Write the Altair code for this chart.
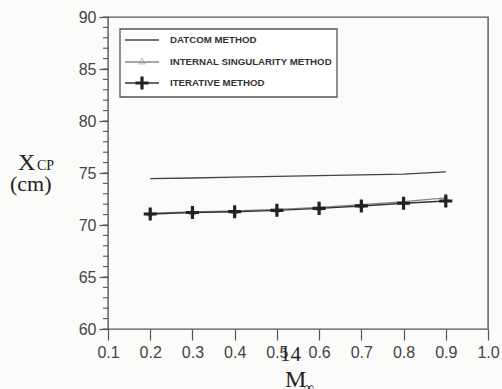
import altair as alt
import pandas as pd

# Free-stream Mach number
mach = [0.2, 0.3, 0.4, 0.5, 0.6, 0.7, 0.8, 0.9]
# Centre-of-pressure location (cm) per method
datcom = [74.45, 74.52, 74.60, 74.67, 74.75, 74.82, 74.90, 75.10]
singularity = [71.15, 71.25, 71.35, 71.50, 71.70, 71.95, 72.25, 72.60]
iterative = [71.06, 71.20, 71.28, 71.41, 71.60, 71.83, 72.09, 72.31]

series_names = ["DATCOM METHOD", "INTERNAL SINGULARITY METHOD", "ITERATIVE METHOD"]
x_ticks = [0.1, 0.2, 0.3, 0.4, 0.5, 0.6, 0.7, 0.8, 0.9, 1.0]
y_ticks = [60, 65, 70, 75, 80, 85, 90]
y_minor = list(range(60, 91))

W, H = 380, 312
SANS = "Liberation Sans"
SERIF = "Liberation Serif"
PLUS = "M-1,0H1M0,-1V1"

df = pd.DataFrame({
    "M": mach * 3,
    "X": datcom + singularity + iterative,
    "method": [series_names[0]] * 8 + [series_names[1]] * 8 + [series_names[2]] * 8,
})

xs = alt.Scale(domain=[0.1, 1.0], nice=False, zero=False)
ys = alt.Scale(domain=[60, 90], nice=False, zero=False)

x_enc = alt.X("M:Q", scale=xs, axis=alt.Axis(
    values=x_ticks, format=".1f", title=None, domain=False, grid=False,
    tickSize=11, tickColor="#555", tickWidth=1.2,
    labelFont=SANS, labelFontSize=16, labelColor="#444", labelPadding=4,
    labelFlush=False))
y_enc = alt.Y("X:Q", scale=ys, axis=alt.Axis(
    values=y_ticks, title=None, domain=False, grid=False,
    tickSize=9, tickColor="#555", tickWidth=1.2,
    labelFont=SANS, labelFontSize=16, labelColor="#444", labelPadding=3))

base = alt.Chart(df)

datcom_line = base.transform_filter(alt.datum.method == series_names[0]).mark_line(
    color="#444", strokeWidth=1.3).encode(x=x_enc, y=y_enc)

sing_line = base.transform_filter(alt.datum.method == series_names[1]).mark_line(
    color="#888", strokeWidth=1.3,
    point=alt.OverlayMarkDef(shape="triangle-up", filled=False, color="#999", size=40, strokeWidth=1)
).encode(x="M:Q", y="X:Q")

iter_line = base.transform_filter(alt.datum.method == series_names[2]).mark_line(
    color="#333", strokeWidth=1.4).encode(x="M:Q", y="X:Q")
iter_pts = base.transform_filter(alt.datum.method == series_names[2]).mark_point(
    shape=PLUS, filled=False, color="#222", size=170, strokeWidth=3.2, opacity=1
).encode(x="M:Q", y="X:Q")

# minor ticks on the y axis, one per cm
minor = alt.Chart(pd.DataFrame({"v": y_minor})).mark_rule(
    color="#555", strokeWidth=1.1, clip=False).encode(
    y=alt.Y("v:Q", scale=ys), x=alt.value(-5), x2=alt.value(0))

# legend box
one = pd.DataFrame({"k": [0]})
legend_box = alt.Chart(one).mark_rect(
    fill="white", stroke="#555", strokeWidth=1.3).encode(
    x=alt.value(12), x2=alt.value(229), y=alt.value(12), y2=alt.value(80))

legend_layers = [legend_box]
rows_y = [23, 45, 66]
for i, name in enumerate(series_names):
    yv = rows_y[i]
    col = ["#444", "#888", "#333"][i]
    legend_layers.append(alt.Chart(one).mark_rule(color=col, strokeWidth=1.3).encode(
        x=alt.value(17), x2=alt.value(51), y=alt.value(yv)))
    legend_layers.append(alt.Chart(pd.DataFrame({"t": [name]})).mark_text(
        align="left", baseline="middle", font=SANS, fontSize=9.7, fontWeight="bold",
        color="#333").encode(x=alt.value(62), y=alt.value(yv), text="t:N"))
legend_layers.append(alt.Chart(one).mark_point(
    shape="triangle-up", filled=False, color="#999", size=45, strokeWidth=1).encode(
    x=alt.value(34), y=alt.value(rows_y[1] - 1)))
legend_layers.append(alt.Chart(one).mark_point(
    shape=PLUS, filled=False, color="#222", size=170, strokeWidth=3.2, opacity=1).encode(
    x=alt.value(34), y=alt.value(rows_y[2])))


def label(txt, x, y, size, font=SERIF, color="#222"):
    return alt.Chart(pd.DataFrame({"t": [txt]})).mark_text(
        align="left", baseline="alphabetic", font=font, fontSize=size, color=color
    ).encode(x=alt.value(x), y=alt.value(y), text="t:N")


titles = [
    label("X", -90, 153, 24),
    label("CP", -71, 153, 14),
    label("(cm)", -98, 174, 22),
    label("14", 172, 344, 21),
    label("M", 177, 370, 24),
    label("\u221e", 196, 375, 14),
]

chart = alt.layer(
    minor, datcom_line, sing_line, iter_line, iter_pts, *legend_layers, *titles
).properties(
    width=W, height=H,
    autosize=alt.AutoSizeParams(type="none"),
    padding={"left": 108, "top": 17, "right": 14, "bottom": 60},
    background="#fbfbf9",
).configure_view(stroke="#555", strokeWidth=1.4)

chart.save("out.html", embed_options={"renderer": "svg", "actions": False})
